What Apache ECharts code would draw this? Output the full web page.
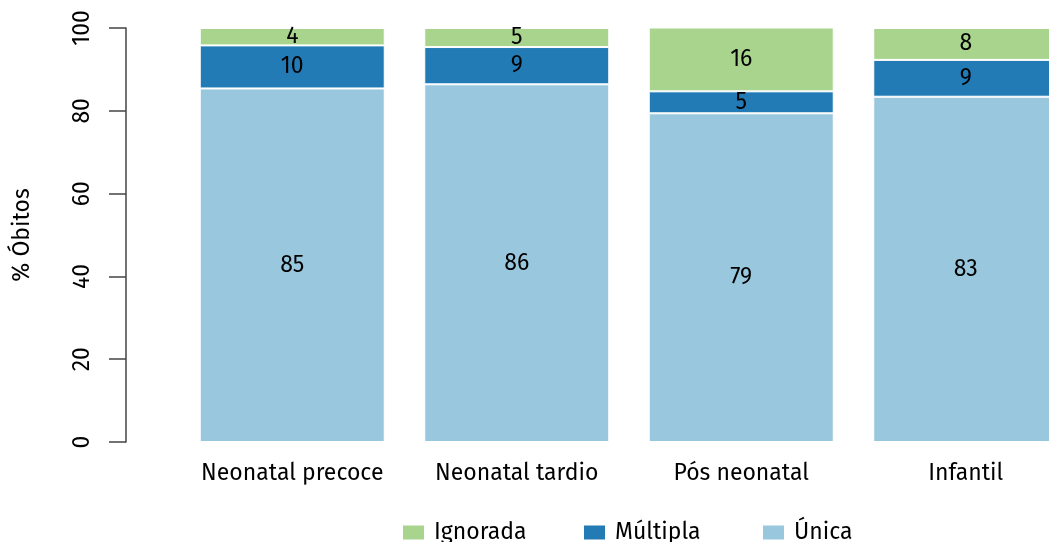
<!DOCTYPE html>
<html>
<head>
<meta charset="utf-8">
<title>Óbitos por tipo de gravidez</title>
<script src="https://cdn.jsdelivr.net/npm/echarts@6/dist/echarts.min.js"></script>
<style>
  html, body { margin: 0; padding: 0; background: #fff; overflow: hidden; }
  /* a última barra é cortada na borda direita, como no original */
  #chart { width: 1080px; height: 542px; }
</style>
</head>
<body>
<div id="chart"></div>
<script>
// categorias do eixo x
const categorias = ['Neonatal precoce', 'Neonatal tardio', 'Pós neonatal', 'Infantil'];
// percentuais
const unica = [85.4, 86.4, 79.4, 83.4];
const multipla = [10.4, 9.0, 5.3, 8.9];
const ignorada = [4.2, 4.6, 15.8, 7.7];
const ticksY = [0, 20, 40, 60, 80, 100];

const fonte = '"Fira Sans", "Open Sans", "Noto Sans", sans-serif';
const cores = { 'Única': '#99c8de', 'Múltipla': '#237bb5', 'Ignorada': '#a8d48e' };

function serie(nome, dados) {
    return {
        name: nome,
        type: 'bar',
        stack: 'total',
        data: dados,
        barCategoryGap: '17.6%',
        itemStyle: { color: cores[nome], borderColor: '#fff', borderWidth: 1 },
        label: {
            show: true,
            position: 'inside',
            color: '#000',
            fontFamily: fonte,
            fontSize: 23,
            formatter: p => Math.round(p.value)
        },
        emphasis: { disabled: true }
    };
}

// uma legenda por item, para acertar o espaçamento do original
function legenda(nome, esquerda) {
    return {
        data: [nome],
        left: esquerda,
        top: 516,
        itemWidth: 23,
        itemHeight: 16,
        icon: 'rect',
        textStyle: { fontFamily: fonte, fontSize: 23, color: '#000', padding: [0, 0, 0, 4] }
    };
}

let chart = echarts.init(document.getElementById('chart'));
chart.setOption({
    animation: false,
    grid: { left: 180, top: 28, width: 898, height: 414, containLabel: false },
    legend: [
        legenda('Ignorada', 396),
        legenda('Múltipla', 577),
        legenda('Única', 756)
    ],
    xAxis: {
        type: 'category',
        data: categorias,
        axisLine: { show: false },
        axisTick: { show: false },
        axisLabel: { color: '#000', fontFamily: fonte, fontSize: 23, margin: 20, interval: 0 }
    },
    yAxis: {
        type: 'value',
        min: 0,
        max: 100,
        interval: 20,
        offset: 54,
        name: '% Óbitos',
        nameLocation: 'middle',
        nameGap: 92,
        nameRotate: 90,
        nameTextStyle: { color: '#000', fontFamily: fonte, fontSize: 23 },
        axisLine: { show: true, lineStyle: { color: '#444', width: 1.5 } },
        axisTick: { show: true, length: 17, lineStyle: { color: '#444', width: 1.5 } },
        axisLabel: {
            color: '#000',
            fontFamily: fonte,
            fontSize: 23,
            rotate: 90,
            margin: 32,
            formatter: v => ticksY.includes(v) ? String(v) : ''
        },
        splitLine: { show: false }
    },
    series: [
        serie('Única', unica),
        serie('Múltipla', multipla),
        serie('Ignorada', ignorada)
    ]
});
</script>
</body>
</html>
